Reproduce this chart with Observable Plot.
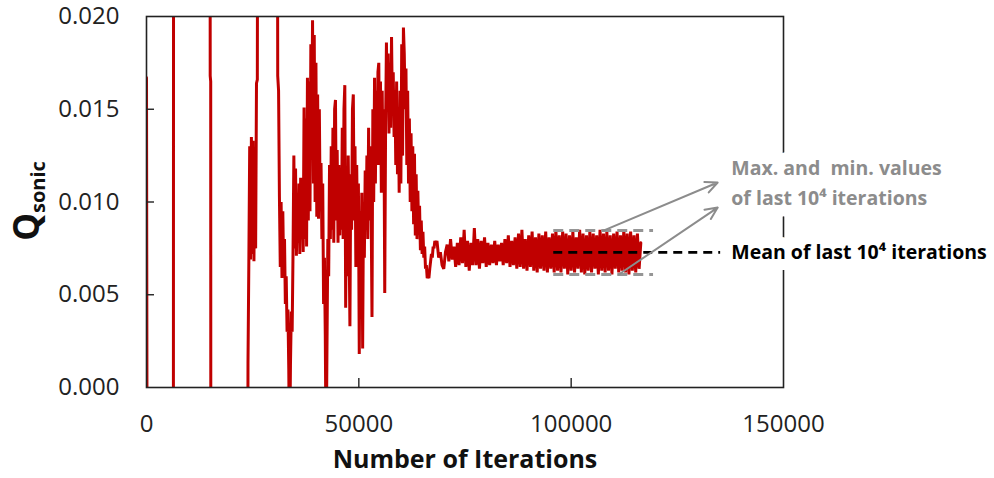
<!DOCTYPE html>
<html>
<head>
<meta charset="utf-8">
<script src="https://cdn.jsdelivr.net/npm/d3@7"></script>
<script src="https://cdn.jsdelivr.net/npm/@observablehq/plot@0.6"></script>
<style>
  html, body { margin: 0; padding: 0; background: #fff; }
  #chart svg { display: block; }
</style>
</head>
<body>
<div id="chart"></div>
<script>
// Q_sonic convergence history over solver iterations.
// Values far outside the axis range stand for the early blow-ups that leave the frame.

// Start-up transients: explicit (iteration, Q) pairs
const earlyIter = [0, 300, 6300, 6400, 14950, 15000, 15120, 15170, 23600];
const earlyQ    = [0.0167, -0.03, -0.03, 0.05, 0.05, 0.0168, 0.0165, -0.03, -0.03];

// Oscillating phase, sampled every 200 iterations from 23700
const chaosStart = 23700;
const chaosStep = 200;
const chaosQ = [
  -0.03, 0.0013, 0.0068, 0.0130, 0.0069, 0.0135, 0.0072, 0.0133, 0.0068, 0.0128,
  0.0075, 0.0164, 0.0166, 0.05, 0.05, 0.05, 0.05, 0.05, 0.05, 0.05,
  0.05, 0.05, 0.05, 0.05, 0.05, 0.05, 0.05, 0.05, 0.05, 0.05,
  0.05, 0.05, 0.05, 0.05, 0.05, 0.05, 0.0168, 0.0160, 0.0103, 0.0065,
  0.0100, 0.0059, 0.0095, 0.0062, 0.0080, 0.0045, 0.0060, 0.0030, 0.0042, 0.0010,
  -0.004, 0.0012, 0.0041, 0.0030, 0.0072, 0.0125, 0.0075, 0.0118, 0.0071, 0.0100,
  0.0078, 0.0110, 0.0072, 0.0113, 0.0080, 0.0105, 0.0073, 0.0151, 0.0080, 0.0145,
  0.0076, 0.0167, 0.0090, 0.0165, 0.0095, 0.0185, 0.0129, 0.0198, 0.0110, 0.0190,
  0.0100, 0.0175, 0.0092, 0.0158, 0.0091, 0.0150, 0.0095, 0.0121, 0.0080, 0.0110,
  0.0045, 0.0070, 0.0028, -0.004, 0.0022, 0.0080, 0.0060, 0.0120, 0.0080, 0.0130,
  0.0085, 0.0140, 0.0078, 0.0150, 0.0155, 0.0090, 0.0128, 0.0078, 0.0120, 0.0082,
  0.0118, 0.0085, 0.0140, 0.0080, 0.0150, 0.0163, 0.0043, 0.0110, 0.0060, 0.0125,
  0.0080, 0.0033, 0.0115, 0.0085, 0.0150, 0.0158, 0.0090, 0.0130, 0.0065, 0.0120,
  0.0075, 0.0110, 0.0018, 0.0095, 0.0060, 0.0105, 0.0021, 0.0100, 0.0070, 0.0117,
  0.0085, 0.0125, 0.0080, 0.0140, 0.0090, 0.0130, 0.0095, 0.0038, 0.0150, 0.0100,
  0.0167, 0.0110, 0.0160, 0.0120, 0.0170, 0.0175, 0.0120, 0.0165, 0.0105, 0.0160,
  0.0115, 0.0150, 0.0051, 0.0140, 0.0186, 0.0150, 0.0180, 0.0137, 0.0175, 0.0140,
  0.0189, 0.0150, 0.0170, 0.0135, 0.0160, 0.0120, 0.0165, 0.0115, 0.0150, 0.0105,
  0.0160, 0.0110, 0.0185, 0.0125, 0.0194, 0.0180, 0.0150, 0.0172, 0.0120, 0.0160,
  0.0110, 0.0145, 0.0100, 0.0137, 0.0095, 0.0130, 0.0088, 0.0126, 0.0082, 0.0115,
  0.0080, 0.0106, 0.0083, 0.0098, 0.0074, 0.0090, 0.0072, 0.0084, 0.0070, 0.0076,
  0.0064, 0.0066, 0.0059, 0.0060, 0.0059, 0.0064, 0.0068, 0.0072, 0.0070, 0.0076,
  0.0075, 0.0079, 0.0077
];

// Settled phase, sampled every 400 iterations from 68400
const tailStart = 68400;
const tailStep = 400;
const tailQ = [
  0.0079, 0.0070, 0.0073, 0.0066, 0.0064, 0.0073, 0.0077, 0.0068, 0.0080, 0.0069,
  0.0076, 0.0065, 0.0078, 0.0066, 0.0081, 0.0067, 0.0085, 0.0065, 0.0079, 0.0063,
  0.0078, 0.0066, 0.0086, 0.0066, 0.0080, 0.0064, 0.0079, 0.0067, 0.0081, 0.0065,
  0.0078, 0.0066, 0.0077, 0.0067, 0.0079, 0.0066, 0.0077, 0.0068, 0.0078, 0.0066,
  0.0080, 0.0067, 0.0082, 0.0065, 0.0079, 0.0066, 0.0081, 0.0064, 0.0083, 0.0065,
  0.0085, 0.0064, 0.0080, 0.0063, 0.0082, 0.0065, 0.0084, 0.0063, 0.0081, 0.0062,
  0.0083, 0.0064, 0.0082, 0.0063, 0.0084, 0.0062, 0.0081, 0.0064, 0.0083, 0.0062,
  0.0085, 0.0063, 0.0082, 0.0062, 0.0084, 0.0064, 0.0083, 0.0061, 0.0082, 0.0063,
  0.0084, 0.0062, 0.0081, 0.0064, 0.0085, 0.0062, 0.0083, 0.0061, 0.0082, 0.0063,
  0.0084, 0.0062, 0.0083, 0.0064, 0.0082, 0.0061, 0.0085, 0.0063, 0.0083, 0.0062,
  0.0084, 0.0063, 0.0082, 0.0061, 0.0083, 0.0064, 0.0084, 0.0062, 0.0082, 0.0063,
  0.0085, 0.0062, 0.0083, 0.0061, 0.0084, 0.0063, 0.0082, 0.0062, 0.0083, 0.0064,
  0.0078
];

// Statistics window of the last iterations and its summary values
const windowIter = [95900, 119400];
const maxQ = 0.00846;
const minQ = 0.00609;
const meanQ = 0.00728;
const meanLineEnd = 135200;

// Axis ticks
const xTicks = [0, 50000, 100000, 150000];
const yTicks = [0, 0.005, 0.010, 0.015, 0.020];

// Callout text and arrows
const noteX = 137700;
const rangeNote = "Max. and  min. values\nof last 10\u2074 iterations";
const rangeNoteQ = 0.01115;
const meanNote = "Mean of last 10\u2074 iterations";
const arrows = [
  {x1: 107600, y1: 0.00846, x2: 134500, y2: 0.01105},
  {x1: 111200, y1: 0.00609, x2: 134500, y2: 0.00970}
];

const series = [
  ...earlyIter.map((t, i) => ({iter: t, q: earlyQ[i]})),
  ...chaosQ.map((q, i) => ({iter: chaosStart + i * chaosStep, q})),
  ...tailQ.map((q, i) => ({iter: tailStart + i * tailStep, q}))
];

const font = "'Open Sans', 'DejaVu Sans', sans-serif";

const chart = Plot.plot({
  width: 994,
  height: 478,
  marginLeft: 146,
  marginRight: 211,
  marginTop: 16,
  marginBottom: 91,
  style: {fontFamily: font, fontSize: "24px", color: "#222", background: "#fff", overflow: "visible"},
  x: {domain: [0, 150000]},
  y: {domain: [0, 0.02]},
  marks: [
    Plot.line(series, {x: "iter", y: "q", stroke: "#c00000", strokeWidth: 3, strokeLinejoin: "bevel", clip: true}),
    // max / min of the window
    Plot.ruleY([maxQ, minQ], {x1: windowIter[0], x2: windowIter[1], stroke: "#959595", strokeWidth: 3, strokeDasharray: "10,6"}),
    // mean of the window, extended to its label
    Plot.ruleY([meanQ], {x1: windowIter[0], x2: meanLineEnd, stroke: "#000", strokeWidth: 2.8, strokeDasharray: "9,6"}),
    Plot.frame({stroke: "#222", strokeWidth: 1.6}),
    // inward tick marks
    Plot.axisY(yTicks.slice(1, -1), {anchor: "left", tickSize: 8, dx: 8, text: null, stroke: "#222", strokeWidth: 1.4}),
    Plot.axisX(xTicks.slice(1, -1), {anchor: "bottom", tickSize: 9, dy: -9, text: null, stroke: "#222", strokeWidth: 1.4}),
    // tick labels
    Plot.axisY(yTicks, {anchor: "left", tickSize: 0, tickPadding: 27, tickFormat: d3.format(".3f"), label: null, fill: "#222", fontSize: 24}),
    Plot.axisX(xTicks, {anchor: "bottom", tickSize: 0, tickPadding: 27, tickFormat: d3.format("d"), label: null, fill: "#222", fontSize: 24}),
    Plot.text(["Number of Iterations"], {frameAnchor: "bottom", dy: 80, fontSize: 25, fontWeight: "bold", fill: "#111"}),
    Plot.arrow(arrows, {x1: "x1", y1: "y1", x2: "x2", y2: "y2", stroke: "#8c8c8c", strokeWidth: 2, headLength: 10, headAngle: 50}),
    Plot.text([rangeNote], {x: noteX, y: rangeNoteQ, textAnchor: "start", lineAnchor: "middle", lineHeight: 1.5,
      fontSize: 19.5, fontWeight: "bold", fill: "#8c8c8c", stroke: "#fff", strokeWidth: 24, paintOrder: "stroke", strokeLinejoin: "round"}),
    Plot.text([meanNote], {x: noteX, y: meanQ, textAnchor: "start", lineAnchor: "middle",
      fontSize: 19.5, fontWeight: "bold", fill: "#000", stroke: "#fff", strokeWidth: 22, paintOrder: "stroke", strokeLinejoin: "round"})
  ]
});

// Y-axis title with subscript
const ns = "http://www.w3.org/2000/svg";
const yTitle = document.createElementNS(ns, "text");
yTitle.setAttribute("transform", "translate(39,201) rotate(-90)");
yTitle.setAttribute("text-anchor", "middle");
yTitle.setAttribute("font-family", font);
yTitle.setAttribute("font-weight", "bold");
yTitle.setAttribute("fill", "#111");
const tQ = document.createElementNS(ns, "tspan");
tQ.setAttribute("font-size", "35");
tQ.textContent = "Q";
const tSub = document.createElementNS(ns, "tspan");
tSub.setAttribute("font-size", "20");
tSub.setAttribute("dy", "6");
tSub.textContent = "sonic";
yTitle.append(tQ, tSub);
chart.append(yTitle);

document.getElementById("chart").append(chart);
</script>
</body>
</html>
